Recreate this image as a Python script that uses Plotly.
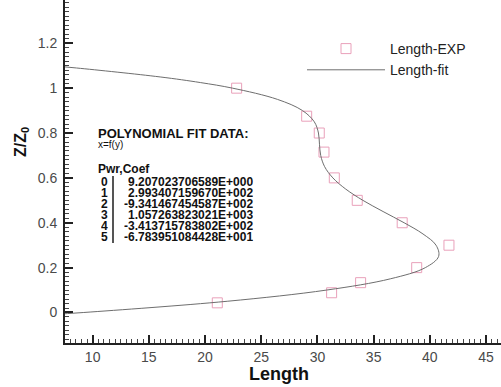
import plotly.graph_objects as go

# ---------------- data ----------------
exp_length = [22.81, 29.04, 30.16, 30.58, 31.50, 33.54, 37.54, 41.70, 38.83, 33.84, 31.26, 21.09]
exp_z = [1.00, 0.875, 0.80, 0.715, 0.60, 0.50, 0.40, 0.30, 0.20, 0.133, 0.088, 0.043]

fit_z = [-0.01, 0.0, 0.05, 0.10, 0.15, 0.20, 0.25, 0.30, 0.35, 0.40, 0.45, 0.50, 0.55,
         0.60, 0.65, 0.70, 0.75, 0.80, 0.85, 0.90, 0.95, 1.00, 1.025, 1.05, 1.09, 1.10]
fit_length = [6.12, 9.21, 21.97, 30.82, 36.48, 39.60, 40.78, 40.55, 39.39, 37.71, 35.84, 34.04, 32.52,
              31.37, 30.64, 30.29, 30.18, 30.09, 29.72, 28.67, 26.44, 22.45, 19.58, 16.01, 8.56, 6.32]

coef_powers = ["0", "1", "2", "3", "4", "5"]
coef_values = ["9.207023706589E+000", "2.993407159670E+002", "-9.341467454587E+002",
               "1.057263823021E+003", "-3.413715783802E+002", "-6.783951084428E+001"]

x_range = [7.54, 46.33]
y_range = [-0.136, 1.393]
x_major_step, x_minor_step = 5, 0.5
y_major_step, y_minor_step = 0.2, 0.02

# ---------------- layout geometry ----------------
W, H = 501, 387
ML, MR, MT, MB = 65, 0, 0, 44
PW, PH = W - ML - MR, H - MT - MB


def px(x):
    return (x - ML) / PW


def py(y):
    return (H - MB - y) / PH


FONT = "Liberation Sans, Arial, sans-serif"

fig = go.Figure()
fig.add_trace(go.Scatter(
    x=exp_length, y=exp_z, mode="markers", name="Length-EXP",
    marker=dict(symbol="square-open", size=10, color="#e9a0ba", line=dict(width=1)),
))
fig.add_trace(go.Scatter(
    x=fit_length, y=fit_z, mode="lines", name="Length-fit", line_shape="spline",
    line=dict(color="#6e6e6e", width=1),
))

axis_common = dict(
    showgrid=False, zeroline=False, showline=True, linecolor="#222", linewidth=2,
    ticks="inside", ticklen=8, tickwidth=2, tickcolor="#222",
    tickfont=dict(family=FONT, size=14, color="#4a4a4a"),
    mirror=False, tickmode="linear", tick0=0,
)

fig.update_xaxes(
    range=x_range, dtick=x_major_step,
    minor=dict(ticks="inside", dtick=x_minor_step, tick0=0, ticklen=4, tickwidth=1,
               tickcolor="#444", showgrid=False),
    **axis_common,
)
fig.update_yaxes(
    range=y_range, dtick=y_major_step, ticklabelstandoff=3,
    minor=dict(ticks="inside", dtick=y_minor_step, tick0=0, ticklen=4, tickwidth=1,
               tickcolor="#444", showgrid=False),
    **axis_common,
)

ann = []
# partially visible top tick label
ann.append(dict(text="1.4", xref="paper", yref="y", x=px(56), y=1.4, xanchor="right",
                yanchor="middle", showarrow=False, font=dict(family=FONT, size=14, color="#4a4a4a")))
# axis titles
ann.append(dict(text="<b>Length</b>", xref="paper", yref="paper", x=px(279), y=py(374),
                xanchor="center", yanchor="middle", showarrow=False,
                font=dict(family=FONT, size=18, color="#111")))
ann.append(dict(text="<b>Z/Z<sub>0</sub></b>", xref="paper", yref="paper", x=px(21), y=py(142),
                xanchor="center", yanchor="middle", showarrow=False, textangle=-90,
                font=dict(family=FONT, size=16, color="#111")))
# fit data box
ann.append(dict(text="<b>POLYNOMIAL FIT DATA:</b>", xref="paper", yref="paper", x=px(96), y=py(133),
                xanchor="left", yanchor="middle", showarrow=False,
                font=dict(family=FONT, size=13, color="#111")))
ann.append(dict(text="x=f(y)", xref="paper", yref="paper", x=px(96), y=py(145),
                xanchor="left", yanchor="middle", showarrow=False,
                font=dict(family=FONT, size=10, color="#111")))
ann.append(dict(text="<b>Pwr,Coef</b>", xref="paper", yref="paper", x=px(96), y=py(169),
                xanchor="left", yanchor="middle", showarrow=False,
                font=dict(family=FONT, size=12, color="#111")))
for i, (p, c) in enumerate(zip(coef_powers, coef_values)):
    yy = 182 + i * 11
    ann.append(dict(text="<b>" + p + "</b>", xref="paper", yref="paper", x=px(104), y=py(yy),
                    xanchor="center", yanchor="middle", showarrow=False, height=10, borderpad=0,
                    font=dict(family=FONT, size=12, color="#111")))
    ann.append(dict(text="<b>" + c + "</b>", xref="paper", yref="paper", x=px(254), y=py(yy),
                    xanchor="right", yanchor="middle", showarrow=False, height=10, borderpad=0,
                    font=dict(family=FONT, size=12, color="#111")))

shapes = [dict(type="line", xref="paper", yref="paper", x0=px(113), x1=px(113),
               y0=py(176), y1=py(243), line=dict(color="#555", width=2))]

fig.update_layout(
    width=W, height=H, margin=dict(l=ML, r=MR, t=MT, b=MB),
    paper_bgcolor="white", plot_bgcolor="white",
    showlegend=True,
    legend=dict(x=px(302), y=py(33), xanchor="left", yanchor="top",
                font=dict(family=FONT, size=14, color="#222"),
                bgcolor="rgba(0,0,0,0)", itemwidth=78, tracegroupgap=0),
    annotations=ann, shapes=shapes,
)

fig.write_html("out.html")
